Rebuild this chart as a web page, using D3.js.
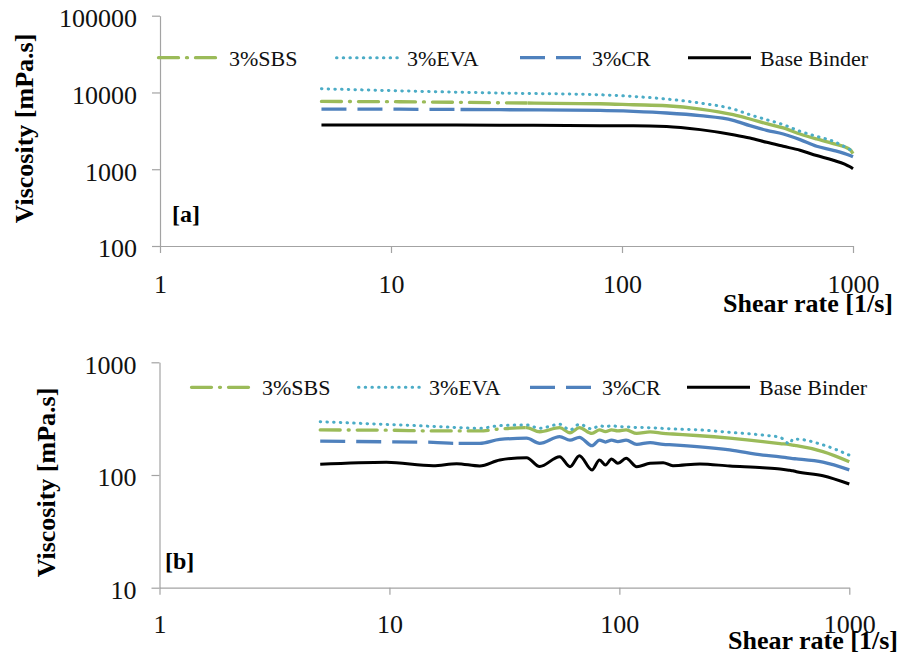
<!DOCTYPE html>
<html><head><meta charset="utf-8">
<script src="https://cdn.jsdelivr.net/npm/d3@7"></script>
<style>
body{margin:0;background:#fff;}
svg{display:block;font-family:"Liberation Serif","Times New Roman",serif;}
</style>
</head><body>
<svg id="c" width="903" height="659"></svg>
<script>
// ---------- data ----------
const seriesNames = ["3%SBS", "3%EVA", "3%CR", "Base Binder"];
const xTickValues = [1, 10, 100, 1000];
const xTickLabels = ["1", "10", "100", "1000"];
const yTickValuesA = [100, 1000, 10000, 100000];
const yTickLabelsA = ["100", "1000", "10000", "100000"];
const yTickValuesB = [10, 100, 1000];
const yTickLabelsB = ["10", "100", "1000"];

// panel [a]
const shearA = [5, 10.9, 29.6, 80.3, 112, 156, 218, 303, 358, 423, 499, 590, 696, 822, 971, 1000];
const sbsA  = [7640, 7570, 7340, 7130, 6920, 6715, 6080, 5130, 4510, 3920, 3450, 2880, 2480, 2160, 1800, 1600];
const evaA  = [11170, 10500, 9820, 9335, 8870, 8210, 7280, 6085, 5130, 4420, 3810, 3120, 2680, 2310, 1800, 1715];
const crA   = [6085, 6050, 5960, 5830, 5660, 5400, 4980, 4330, 3690, 3210, 2880, 2430, 1990, 1765, 1507, 1450];
const baseA = [3772, 3772, 3750, 3693, 3693, 3616, 3280, 2820, 2557, 2242, 1989, 1765, 1507, 1309, 1074, 1012];

// panel [b]
const shearB = [5, 9.7, 15.5, 19.6, 24.7, 30.2, 39.5, 45, 55, 61, 67, 76, 82, 87, 92.5, 98.5, 107, 119, 136, 155, 171, 224, 302, 421, 500, 551, 568, 589, 768, 1000];
const sbsB  = [251, 250, 246, 246, 246, 256, 263, 242, 263, 237, 263, 234, 251, 243, 251, 246, 251, 234, 241, 234, 231, 223, 212, 198, 190, 186, 184, 182, 161, 131];
const evaB  = [297, 281, 270, 264, 260, 274, 278, 260, 282, 251, 282, 256, 274, 267, 275, 269, 268, 264, 263, 259, 256, 251, 239, 226, 216, 189, 208, 208, 185, 150];
const crB   = [200, 197, 195, 191, 191, 207, 212, 191, 219, 204, 216, 182, 204, 196, 204, 198, 204, 187, 194, 187, 185, 178, 167, 150, 145, 141, 140, 139, 130, 111];
const baseB = [124.5, 129.7, 120.9, 126, 120.2, 135.9, 142.4, 119, 145.3, 118.5, 148.3, 110.8, 135.9, 122.7, 138.7, 127, 140.7, 118.5, 127, 128.6, 120.9, 125.2, 120.2, 116.1, 113, 110, 109, 107, 98.6, 83.2];

// ---------- styles ----------
const styles = {
  "3%SBS":       {color: "#9BBB59", width: 3.3, dash: "20,8,1,8", cap: "round", dashUntil: 39},
  "3%EVA":       {color: "#4BACC6", width: 3.0, dash: "0.5,6.2", cap: "round", dashUntil: 1001},
  "3%CR":        {color: "#4F81BD", width: 3.3, dash: "25,11", cap: "butt", dashUntil: 20},
  "Base Binder": {color: "#000000", width: 3.0, dash: null, cap: "butt", dashUntil: 0}
};
const axisColor = "#a3a3a3";
const FONT = 26;

const panels = [
  {id: "a", shear: shearA, values: [sbsA, evaA, crA, baseA],
   yTicks: yTickValuesA, yLabels: yTickLabelsA, yDomain: [100, 100000],
   xRange: [160, 853], yRange: [246, 15.7],
   legendY: 57.7, legendX: [157, 335, 520, 688],
   tag: "[a]", tagPos: [172, 222], xTitlePos: [723, 312], yTitlePos: [33, 128.5], xLabelY: 46.7},
  {id: "b", shear: shearB, values: [sbsB, evaB, crB, baseB],
   yTicks: yTickValuesB, yLabels: yTickLabelsB, yDomain: [10, 1000],
   xRange: [159.5, 849.3], yRange: [587.7, 362.3],
   legendY: 387.3, legendX: [190, 357, 530, 687],
   tag: "[b]", tagPos: [165, 569], xTitlePos: [728, 649], yTitlePos: [55, 482.5], xLabelY: 45.6}
];

const svg = d3.select("#c");
const defs = svg.append("defs");

panels.forEach(p => {
  const x = d3.scaleLog().domain([1, 1000]).range(p.xRange);
  const y = d3.scaleLog().domain(p.yDomain).range(p.yRange);
  const g = svg.append("g");

  // x axis
  const xa = g.append("g").attr("transform", `translate(0,${p.yRange[0]})`)
    .call(d3.axisBottom(x).tickValues(xTickValues).tickSize(7).tickSizeOuter(0)
      .tickFormat((d, i) => xTickLabels[i]));
  // y axis
  const ya = g.append("g").attr("transform", `translate(${p.xRange[0]},0)`)
    .call(d3.axisLeft(y).tickValues(p.yTicks).tickSize(8).tickSizeOuter(0).tickPadding(15)
      .tickFormat((d, i) => p.yLabels[i]));
  [xa, ya].forEach(a => {
    a.select(".domain").attr("stroke", axisColor).attr("stroke-width", 1.2);
    a.selectAll(".tick line").attr("stroke", axisColor).attr("stroke-width", 1.2);
    a.selectAll(".tick text").attr("fill", "#111").style("font-size", FONT + "px")
      .style("font-family", '"Liberation Serif", serif');
  });
  xa.selectAll(".tick text").attr("y", p.xLabelY).attr("dy", 0);
  ya.selectAll(".tick text").attr("dy", "0.42em");

  // clip paths for dashed/solid portions
  const top = p.yRange[1] - 20, h = p.yRange[0] - p.yRange[1] + 40;
  seriesNames.forEach((name, si) => {
    const st = styles[name];
    const split = x(Math.min(st.dashUntil, 1000));
    defs.append("clipPath").attr("id", `cd-${p.id}-${si}`)
      .append("rect").attr("x", p.xRange[0] - 10).attr("y", top)
      .attr("width", Math.max(0, split - p.xRange[0] + 10 + (st.dashUntil > 1000 ? 20 : 0))).attr("height", h);
    defs.append("clipPath").attr("id", `cs-${p.id}-${si}`)
      .append("rect").attr("x", split).attr("y", top)
      .attr("width", Math.max(0, p.xRange[1] + 20 - split)).attr("height", h);
  });

  const line = d3.line().curve(d3.curveMonotoneX)
    .x(d => x(d[0])).y(d => y(d[1]));

  seriesNames.forEach((name, si) => {
    const st = styles[name];
    const pts = p.shear.map((s, i) => [s, p.values[si][i]]);
    if (st.dash && st.dashUntil > 1) {
      g.append("path").attr("d", line(pts)).attr("fill", "none")
        .attr("stroke", st.color).attr("stroke-width", st.width)
        .attr("stroke-dasharray", st.dash).attr("stroke-linecap", st.cap)
        .attr("clip-path", `url(#cd-${p.id}-${si})`);
    }
    if (!st.dash || st.dashUntil <= 1000) {
      g.append("path").attr("d", line(pts)).attr("fill", "none")
        .attr("stroke", st.color).attr("stroke-width", st.width)
        .attr("stroke-linejoin", "round")
        .attr("clip-path", st.dash ? `url(#cs-${p.id}-${si})` : null);
    }
  });

  // legend
  seriesNames.forEach((name, si) => {
    const st = styles[name];
    const lx = p.legendX[si];
    g.append("line").attr("x1", lx + (st.cap === "round" ? 1.5 : 0)).attr("x2", lx + 63)
      .attr("y1", p.legendY).attr("y2", p.legendY)
      .attr("stroke", st.color).attr("stroke-width", st.width)
      .attr("stroke-dasharray", st.dash).attr("stroke-linecap", st.cap);
    g.append("text").attr("x", lx + 72).attr("y", p.legendY + 8)
      .style("font-size", "22px").attr("fill", "#111").text(name);
  });

  // panel tag
  g.append("text").attr("x", p.tagPos[0]).attr("y", p.tagPos[1])
    .style("font-size", "24px").style("font-weight", "bold").text(p.tag);

  // axis titles
  g.append("text").attr("x", p.xTitlePos[0]).attr("y", p.xTitlePos[1])
    .style("font-size", FONT + "px").style("font-weight", "bold").text("Shear rate [1/s]");
  g.append("text").attr("transform", `translate(${p.yTitlePos[0]},${p.yTitlePos[1]}) rotate(-90)`)
    .attr("text-anchor", "middle")
    .style("font-size", FONT + "px").style("font-weight", "bold").text("Viscosity [mPa.s]");
});
</script>
</body></html>
